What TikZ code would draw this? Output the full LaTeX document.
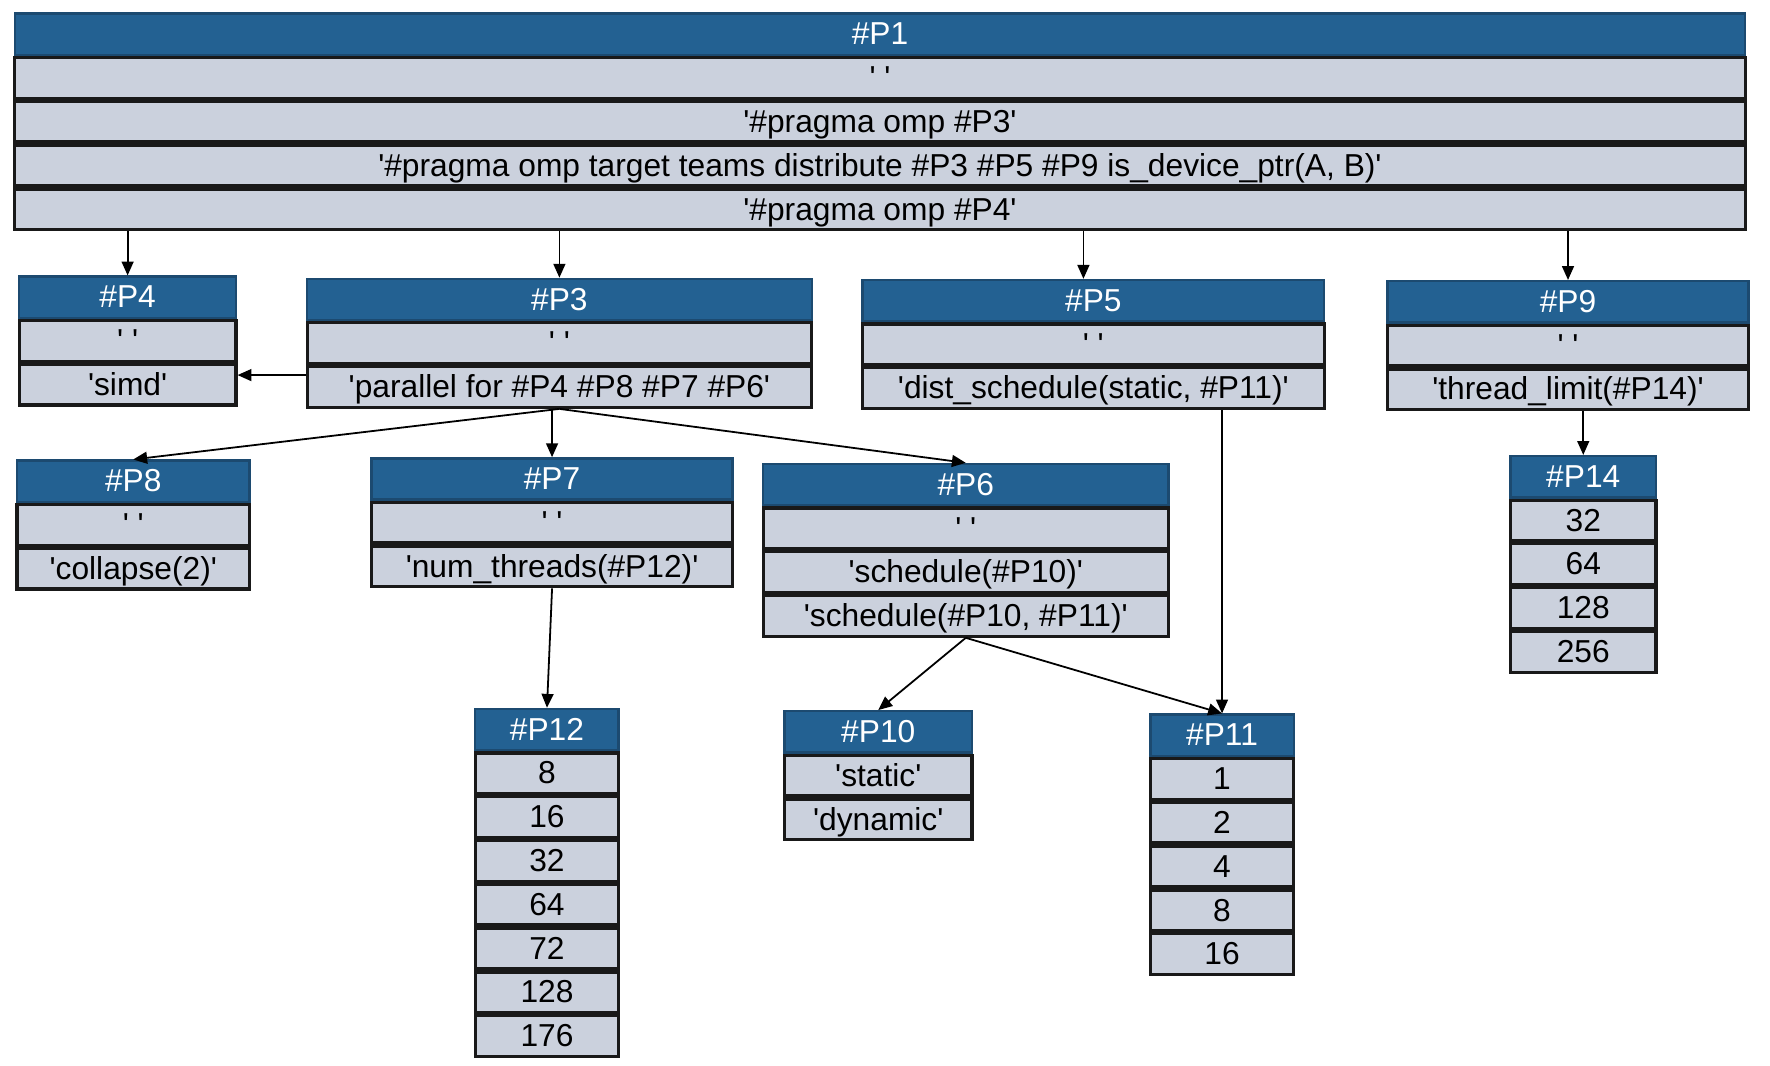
\documentclass[tikz,border=0pt]{standalone}
\usepackage{fontspec}
\usetikzlibrary{arrows.meta}
\newfontfamily\tabfont{Liberation Sans}

\definecolor{headblue}{HTML}{236192}
\definecolor{headedge}{HTML}{1C4A70}
\definecolor{cellgrey}{HTML}{CBD1DD}

\newcommand{\pw}{0.02cm}
% table: name, left, top, width, header, rows
\newcommand{\ptab}[6]{%
  \node[head, minimum width=#4*\pw] (#1) at (#2,#3) {#5};
  \foreach \cellt [count=\i, remember=\i as \j (initially 0)] in {#6} {
    \ifnum\j=0 \edef\prevn{#1}\else\edef\prevn{#1-\j}\fi
    \node[cell, minimum width=#4*\pw] (#1-\i) at (\prevn.south) {\cellt};
  }
}

\tikzset{
  head/.style={draw=headedge, fill=headblue, text=white, line width=1.2pt,
    anchor=north west, minimum height=0.73cm, inner sep=0pt,
    text height=14.3pt, text depth=3.5pt},
  cell/.style={draw=black!90, fill=cellgrey, line width=1.6pt,
    anchor=north, minimum height=0.72cm, inner sep=0pt,
    text height=14.3pt, text depth=3.5pt},
  arr/.style={-{Triangle[length=7pt,width=6pt]}, line width=0.9pt}
}

\begin{document}
\begin{tikzpicture}[x=0.02cm, y=-0.02cm, node font=\tabfont\fontsize{16}{19}\selectfont]
  \useasboundingbox (0,0) rectangle (1568,944);

  % top
  \ptab{p1}{12}{11}{1533}{\#P1}{{' '}, {'\#pragma omp \#P3'}, {'\#pragma omp target teams distribute \#P3 \#P5 \#P9 is\_device\_ptr(A, B)'}, {'\#pragma omp \#P4'}}

  % second row
  \ptab{p4}{16}{244}{192}{\#P4}{{' '}, {'simd'}}
  \ptab{p3}{271}{246}{447}{\#P3}{{' '}, {'parallel for \#P4 \#P8 \#P7 \#P6'}}
  \ptab{p5}{763}{247}{409}{\#P5}{{' '}, {'dist\_schedule(static, \#P11)'}}
  \ptab{p9}{1228}{248}{320}{\#P9}{{' '}, {'thread\_limit(\#P14)'}}

  % third row
  \ptab{p8}{14}{407}{206}{\#P8}{{' '}, {'collapse(2)'}}
  \ptab{p7}{328}{405}{320}{\#P7}{{' '}, {'num\_threads(\#P12)'}}
  \ptab{p6}{675}{410}{359}{\#P6}{{' '}, {'schedule(\#P10)'}, {'schedule(\#P10, \#P11)'}}
  \ptab{p14}{1337}{403}{129}{\#P14}{32, 64, 128, 256}

  % values
  \ptab{p12}{420}{627}{127}{\#P12}{8, 16, 32, 64, 72, 128, 176}
  \ptab{p10}{694}{629}{166}{\#P10}{{'static'}, {'dynamic'}}
  \ptab{p11}{1018}{632}{127}{\#P11}{1, 2, 4, 8, 16}

  % arrows
  \draw[arr] (p1-4.south -| p4.north) -- (p4.north);
  \draw[arr] (p1-4.south -| p3.north) -- (p3.north);
  \draw[arr] ([xshift=-5pt]p1-4.south -| p5.north) -- ([xshift=-5pt]p5.north);
  \draw[arr] (p1-4.south -| p9.north) -- (p9.north);

  \draw[arr] ([yshift=6pt]p3-2.west) -- ([yshift=6pt]p3-2.west -| p4-2.east);
  \draw[arr] (p3-2.south) -- (p8.north);
  \draw[arr] (p3-2.south -| p7.north) -- (p7.north);
  \draw[arr] (p3-2.south) -- (p6.north);

  \draw[arr] (p7-2.south) -- (p12.north);
  \draw[arr] (p6-3.south) -- (p10.north);
  \draw[arr] (p6-3.south) -- (p11.north);
  \draw[arr] (p5-2.south -| p11.north) -- (p11.north);
  \draw[arr] (p9-2.south -| p14.north) -- (p14.north);

\end{tikzpicture}
\end{document}
